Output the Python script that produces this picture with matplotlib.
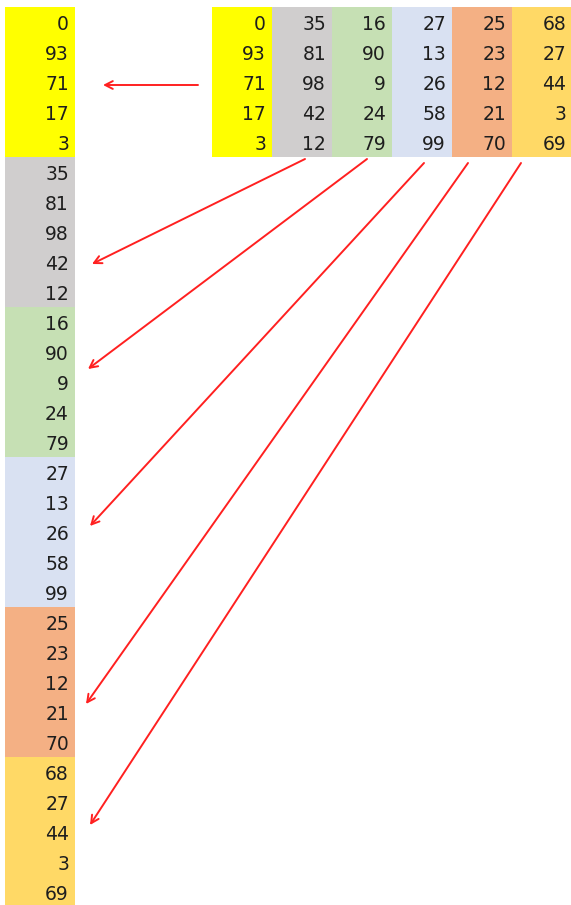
import matplotlib.pyplot as plt
from matplotlib.patches import Rectangle

# table values, one list per column
col_a = [0, 93, 71, 17, 3]
col_b = [35, 81, 98, 42, 12]
col_c = [16, 90, 9, 24, 79]
col_d = [27, 13, 26, 58, 99]
col_e = [25, 23, 12, 21, 70]
col_f = [68, 27, 44, 3, 69]
columns = [col_a, col_b, col_c, col_d, col_e, col_f]
colors = ["#FFFF00", "#D0CECE", "#C6E0B4", "#D9E1F2", "#F4B084", "#FFD966"]

W, H = 571, 905
fig = plt.figure(figsize=(W / 100, H / 100), dpi=100)
ax = fig.add_axes([0, 0, 1, 1])
ax.set_xlim(0, W)
ax.set_ylim(H, 0)
ax.axis("off")

row_h = 30
top = 7
txt_kw = dict(ha="right", va="center", fontsize=13.5, color="#1e1e1e", family="DejaVu Sans")

# wide table on the right
x0, col_w = 212, 60
for j, (vals, c) in enumerate(zip(columns, colors)):
    x = x0 + j * col_w
    ax.add_patch(Rectangle((x, top), col_w, row_h * len(vals), color=c, lw=0))
    for i, v in enumerate(vals):
        ax.text(x + col_w - 6, top + (i + 0.5) * row_h + 2.5, str(v), **txt_kw)

# stacked column on the left
lx, lw = 5, 70
k = 0
for vals, c in zip(columns, colors):
    ax.add_patch(Rectangle((lx, top + k * row_h), lw, row_h * len(vals), color=c, lw=0))
    for v in vals:
        ax.text(lx + lw - 6, top + (k + 0.5) * row_h + 2.5, str(v), **txt_kw)
        k += 1

# arrows from each column to its place in the stack
arrows = [
    ((198, 85), (103, 85)),
    ((305, 159), (92, 264)),
    ((367, 159), (88, 369)),
    ((424, 163), (90, 526)),
    ((468, 163), (86, 704)),
    ((521, 163), (90, 825)),
]
for start, end in arrows:
    ax.annotate("", xy=end, xytext=start,
                arrowprops=dict(arrowstyle="->,head_length=0.55,head_width=0.28",
                                color="#FF2020", lw=1.4, shrinkA=0, shrinkB=0))

fig.savefig("out.png", dpi=100)
